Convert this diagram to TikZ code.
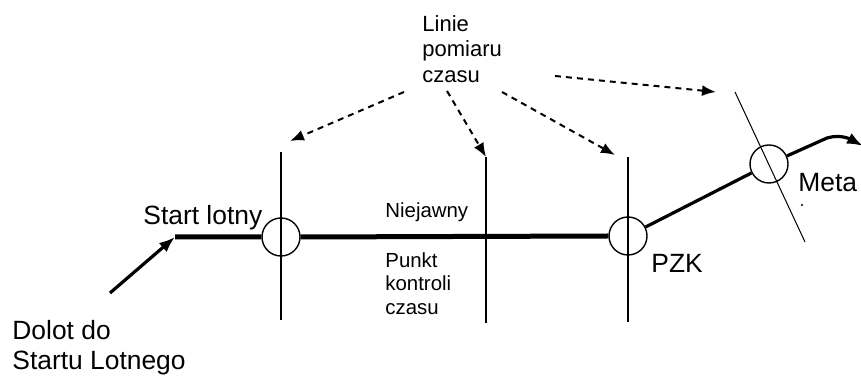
\documentclass[tikz,border=0pt]{standalone}
\usepackage{fontspec}
\setmainfont{Liberation Sans}
\usetikzlibrary{positioning, arrows.meta}

\begin{document}
\begin{tikzpicture}[x=0.5pt, y=-0.5pt,
    ring/.style={circle, draw, line width=0.7pt, minimum size=19pt, inner sep=0pt},
    route/.style={line width=2.5pt},
    leg/.style={line width=1.6pt},
    gate/.style={line width=1.2pt},
    hint/.style={line width=1pt, dash pattern=on 3pt off 2.5pt, -{Latex[length=7pt, width=5.5pt]}},
    big/.style={inner sep=0pt, align=left, font=\fontsize{13.2}{15}\selectfont},
    small/.style={inner sep=0pt, align=left, font=\fontsize{10.2}{11.75}\selectfont}]
    \useasboundingbox (0,0) rectangle (861,378);

    % timing lines
    \coordinate (g1t) at (281,152); \coordinate (g1b) at (281,320);
    \coordinate (g2t) at (486,157); \coordinate (g2b) at (486,323);
    \coordinate (g3t) at (628,157); \coordinate (g3b) at (628,322);
    \coordinate (mt) at (735,92);   \coordinate (mb) at (805,242);
    \draw[gate] (g1t) -- (g1b);
    \draw[gate] (g2t) -- (g2b);
    \draw[gate] (g3t) -- (g3b);
    \draw[line width=0.5pt] (mt) -- (mb);

    % route
    \node[ring] (c1) at (281,237) {};
    \node[ring] (c2) at (628,236) {};
    \node[ring] (c3) at (769,164) {};
    \coordinate (in) at (110,293);
    \coordinate (sl) at (175,237);
    \coordinate (mbend) at (827,138);
    \coordinate (mend) at (863,146);
    \draw[leg, -{Latex[length=8pt, width=6pt]}] (in) -- (sl);
    \draw[route] (sl) -- (c1.west) (c1.east) -- (c2.west);
    \draw[leg] (c2) -- (c3);
    \draw[leg, -{Latex[length=8pt, width=6pt]}] (c3) -- (mbend) .. controls (840,134) and (850,139) .. (mend);
    \fill (802,205) circle (0.6pt);

    % labels
    \node[big, anchor=base west] (start) at (143,225) {Start lotny};
    \node[big, anchor=north west] (dolot) at (12,320) {Dolot do\\Startu Lotnego};
    \node[big, anchor=base west] (pzk) at (651,273) {PZK};
    \node[big, anchor=base west] (meta) at (798,192) {Meta};
    \node[small, anchor=base west] (niej) at (385,218) {Niejawny};
    \node[small, anchor=north west] (pkc) at (385,252) {Punkt\\kontroli\\czasu};
    \node[small, anchor=north west, font=\fontsize{11}{12.75}\selectfont] (lab) at (422,15) {Linie\\pomiaru\\czasu};

    % arrows from the label
    \coordinate (h1) at (404,92);  \coordinate (e1) at (290,141);
    \coordinate (h2) at (447,91);  \coordinate (e2) at (486,157);
    \coordinate (h3) at (502,92);  \coordinate (e3) at (615,155);
    \coordinate (h4) at (555,76);  \coordinate (e4) at (716,92);
    \draw[hint] (h1) -- (e1);
    \draw[hint] (h2) -- (e2);
    \draw[hint] (h3) -- (e3);
    \draw[hint] (h4) -- (e4);
\end{tikzpicture}
\end{document}
